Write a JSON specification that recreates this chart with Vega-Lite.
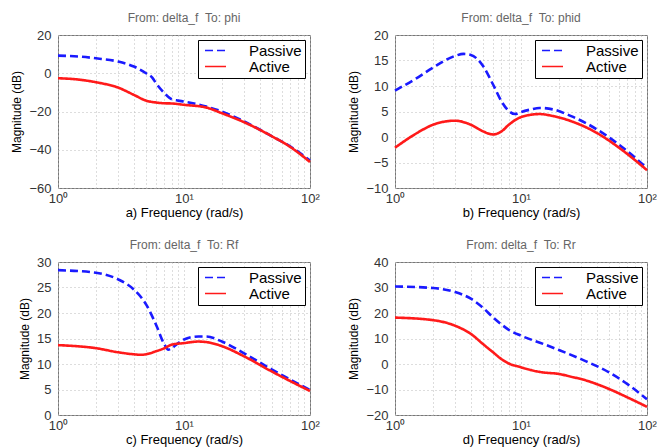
{
  "$schema": "https://vega.github.io/schema/vega-lite/v6.json",
  "background": "white",
  "padding": {"left": 10, "top": 11, "right": 0, "bottom": 0},
  "bounds": "flush",
  "spacing": {"row": 74, "column": 85},
  "columns": 2,
  "datasets": {
    "curves": [
      {"panel": "a", "series": "Passive", "f": 1, "db": 9.2},
      {"panel": "a", "series": "Passive", "f": 1.5, "db": 8.7},
      {"panel": "a", "series": "Passive", "f": 2, "db": 7.8},
      {"panel": "a", "series": "Passive", "f": 3, "db": 6.1},
      {"panel": "a", "series": "Passive", "f": 4, "db": 3.5},
      {"panel": "a", "series": "Passive", "f": 5, "db": 0},
      {"panel": "a", "series": "Passive", "f": 5.6, "db": -2.3},
      {"panel": "a", "series": "Passive", "f": 6, "db": -5.2},
      {"panel": "a", "series": "Passive", "f": 7, "db": -10.4},
      {"panel": "a", "series": "Passive", "f": 8, "db": -13.6},
      {"panel": "a", "series": "Passive", "f": 9, "db": -14.3},
      {"panel": "a", "series": "Passive", "f": 10, "db": -14.8},
      {"panel": "a", "series": "Passive", "f": 15, "db": -17.4},
      {"panel": "a", "series": "Passive", "f": 20, "db": -20},
      {"panel": "a", "series": "Passive", "f": 30, "db": -25.2},
      {"panel": "a", "series": "Passive", "f": 50, "db": -33},
      {"panel": "a", "series": "Passive", "f": 70, "db": -38.3},
      {"panel": "a", "series": "Passive", "f": 100, "db": -45.7},
      {"panel": "a", "series": "Active", "f": 1, "db": -2.6},
      {"panel": "a", "series": "Active", "f": 1.5, "db": -3.4},
      {"panel": "a", "series": "Active", "f": 2, "db": -4.7},
      {"panel": "a", "series": "Active", "f": 3, "db": -7.5},
      {"panel": "a", "series": "Active", "f": 4, "db": -11.3},
      {"panel": "a", "series": "Active", "f": 5, "db": -14.3},
      {"panel": "a", "series": "Active", "f": 6, "db": -15.3},
      {"panel": "a", "series": "Active", "f": 7, "db": -15.7},
      {"panel": "a", "series": "Active", "f": 8, "db": -15.8},
      {"panel": "a", "series": "Active", "f": 10, "db": -16.5},
      {"panel": "a", "series": "Active", "f": 15, "db": -17.9},
      {"panel": "a", "series": "Active", "f": 20, "db": -20.9},
      {"panel": "a", "series": "Active", "f": 30, "db": -25.6},
      {"panel": "a", "series": "Active", "f": 50, "db": -33},
      {"panel": "a", "series": "Active", "f": 70, "db": -38.6},
      {"panel": "a", "series": "Active", "f": 100, "db": -46.4},

      {"panel": "b", "series": "Passive", "f": 1, "db": 9.1},
      {"panel": "b", "series": "Passive", "f": 1.5, "db": 11.6},
      {"panel": "b", "series": "Passive", "f": 2, "db": 13.6},
      {"panel": "b", "series": "Passive", "f": 3, "db": 15.9},
      {"panel": "b", "series": "Passive", "f": 3.5, "db": 16.3},
      {"panel": "b", "series": "Passive", "f": 4, "db": 16.1},
      {"panel": "b", "series": "Passive", "f": 5, "db": 13.9},
      {"panel": "b", "series": "Passive", "f": 6, "db": 10.3},
      {"panel": "b", "series": "Passive", "f": 7, "db": 7.0},
      {"panel": "b", "series": "Passive", "f": 8, "db": 5.1},
      {"panel": "b", "series": "Passive", "f": 9, "db": 4.5},
      {"panel": "b", "series": "Passive", "f": 10, "db": 4.9},
      {"panel": "b", "series": "Passive", "f": 12, "db": 5.4},
      {"panel": "b", "series": "Passive", "f": 14, "db": 5.7},
      {"panel": "b", "series": "Passive", "f": 18, "db": 5.4},
      {"panel": "b", "series": "Passive", "f": 25, "db": 4.1},
      {"panel": "b", "series": "Passive", "f": 40, "db": 1.5},
      {"panel": "b", "series": "Passive", "f": 60, "db": -1.5},
      {"panel": "b", "series": "Passive", "f": 100, "db": -6.1},
      {"panel": "b", "series": "Active", "f": 1, "db": -2.1},
      {"panel": "b", "series": "Active", "f": 1.5, "db": 0.8},
      {"panel": "b", "series": "Active", "f": 2, "db": 2.4},
      {"panel": "b", "series": "Active", "f": 3, "db": 3.2},
      {"panel": "b", "series": "Active", "f": 4, "db": 2.4},
      {"panel": "b", "series": "Active", "f": 5, "db": 1.1},
      {"panel": "b", "series": "Active", "f": 6, "db": 0.5},
      {"panel": "b", "series": "Active", "f": 7, "db": 1.1},
      {"panel": "b", "series": "Active", "f": 8, "db": 2.4},
      {"panel": "b", "series": "Active", "f": 10, "db": 3.9},
      {"panel": "b", "series": "Active", "f": 14, "db": 4.5},
      {"panel": "b", "series": "Active", "f": 18, "db": 4.1},
      {"panel": "b", "series": "Active", "f": 25, "db": 3.1},
      {"panel": "b", "series": "Active", "f": 40, "db": 0.8},
      {"panel": "b", "series": "Active", "f": 60, "db": -2.1},
      {"panel": "b", "series": "Active", "f": 100, "db": -6.5},

      {"panel": "c", "series": "Passive", "f": 1, "db": 28.4},
      {"panel": "c", "series": "Passive", "f": 2, "db": 27.9},
      {"panel": "c", "series": "Passive", "f": 3, "db": 26.6},
      {"panel": "c", "series": "Passive", "f": 4, "db": 24.6},
      {"panel": "c", "series": "Passive", "f": 5, "db": 21.7},
      {"panel": "c", "series": "Passive", "f": 6, "db": 17.7},
      {"panel": "c", "series": "Passive", "f": 7, "db": 13.8},
      {"panel": "c", "series": "Passive", "f": 7.5, "db": 12.8},
      {"panel": "c", "series": "Passive", "f": 8, "db": 13.1},
      {"panel": "c", "series": "Passive", "f": 9, "db": 14.1},
      {"panel": "c", "series": "Passive", "f": 10, "db": 14.8},
      {"panel": "c", "series": "Passive", "f": 13, "db": 15.4},
      {"panel": "c", "series": "Passive", "f": 15, "db": 15.4},
      {"panel": "c", "series": "Passive", "f": 20, "db": 14.4},
      {"panel": "c", "series": "Passive", "f": 30, "db": 12.1},
      {"panel": "c", "series": "Passive", "f": 50, "db": 8.9},
      {"panel": "c", "series": "Passive", "f": 100, "db": 4.9},
      {"panel": "c", "series": "Active", "f": 1, "db": 13.7},
      {"panel": "c", "series": "Active", "f": 2, "db": 13.1},
      {"panel": "c", "series": "Active", "f": 3, "db": 12.3},
      {"panel": "c", "series": "Active", "f": 4, "db": 11.9},
      {"panel": "c", "series": "Active", "f": 4.5, "db": 11.8},
      {"panel": "c", "series": "Active", "f": 5, "db": 11.9},
      {"panel": "c", "series": "Active", "f": 6, "db": 12.5},
      {"panel": "c", "series": "Active", "f": 7, "db": 13.1},
      {"panel": "c", "series": "Active", "f": 8, "db": 13.8},
      {"panel": "c", "series": "Active", "f": 10, "db": 14.1},
      {"panel": "c", "series": "Active", "f": 13, "db": 14.4},
      {"panel": "c", "series": "Active", "f": 15, "db": 14.3},
      {"panel": "c", "series": "Active", "f": 20, "db": 13.5},
      {"panel": "c", "series": "Active", "f": 30, "db": 11.5},
      {"panel": "c", "series": "Active", "f": 50, "db": 8.5},
      {"panel": "c", "series": "Active", "f": 100, "db": 4.7},

      {"panel": "d", "series": "Passive", "f": 1, "db": 30.4},
      {"panel": "d", "series": "Passive", "f": 2, "db": 29.8},
      {"panel": "d", "series": "Passive", "f": 3, "db": 28.2},
      {"panel": "d", "series": "Passive", "f": 4, "db": 25.6},
      {"panel": "d", "series": "Passive", "f": 5, "db": 22.0},
      {"panel": "d", "series": "Passive", "f": 6, "db": 18.3},
      {"panel": "d", "series": "Passive", "f": 7, "db": 15.5},
      {"panel": "d", "series": "Passive", "f": 8, "db": 13.4},
      {"panel": "d", "series": "Passive", "f": 10, "db": 11.1},
      {"panel": "d", "series": "Passive", "f": 15, "db": 7.9},
      {"panel": "d", "series": "Passive", "f": 20, "db": 5.5},
      {"panel": "d", "series": "Passive", "f": 30, "db": 1.9},
      {"panel": "d", "series": "Passive", "f": 50, "db": -3.3},
      {"panel": "d", "series": "Passive", "f": 70, "db": -7.9},
      {"panel": "d", "series": "Passive", "f": 100, "db": -13.8},
      {"panel": "d", "series": "Active", "f": 1, "db": 18.2},
      {"panel": "d", "series": "Active", "f": 2, "db": 17.2},
      {"panel": "d", "series": "Active", "f": 3, "db": 15.0},
      {"panel": "d", "series": "Active", "f": 4, "db": 11.8},
      {"panel": "d", "series": "Active", "f": 5, "db": 7.8},
      {"panel": "d", "series": "Active", "f": 6, "db": 4.6},
      {"panel": "d", "series": "Active", "f": 7, "db": 1.9},
      {"panel": "d", "series": "Active", "f": 8, "db": 0.2},
      {"panel": "d", "series": "Active", "f": 10, "db": -1.3},
      {"panel": "d", "series": "Active", "f": 12, "db": -2.4},
      {"panel": "d", "series": "Active", "f": 15, "db": -3.3},
      {"panel": "d", "series": "Active", "f": 20, "db": -3.9},
      {"panel": "d", "series": "Active", "f": 25, "db": -5.0},
      {"panel": "d", "series": "Active", "f": 30, "db": -5.9},
      {"panel": "d", "series": "Active", "f": 50, "db": -9.8},
      {"panel": "d", "series": "Active", "f": 70, "db": -13.1},
      {"panel": "d", "series": "Active", "f": 100, "db": -16.8}
    ]
  },
  "resolve": {
    "scale": {"x": "independent", "y": "independent", "color": "independent", "strokeDash": "independent"},
    "legend": {"color": "independent", "strokeDash": "independent"}
  },
  "concat": [
    {
      "width": 252, "height": 153,
      "title": {"text": "From: delta_f\u00a0\u00a0To: phi"},
      "data": {"name": "curves"},
      "transform": [{"filter": "datum.panel === 'a'"}],
      "mark": {"type": "line", "interpolate": "monotone", "strokeWidth": 2.6},
      "encoding": {
        "x": {"field": "f", "type": "quantitative", "scale": {"type": "log", "domain": [1, 100], "nice": false},
              "axis": {"title": "a) Frequency  (rad/s)"}},
        "y": {"field": "db", "type": "quantitative", "scale": {"domain": [-60, 20], "nice": false},
              "axis": {"values": [-60, -40, -20, 0, 20], "title": "Magnitude (dB)"}},
        "color": {"field": "series", "type": "nominal", "scale": {"domain": ["Passive", "Active"], "range": ["#1a1aff", "#ff1a1a"]}},
        "strokeDash": {"field": "series", "type": "nominal", "scale": {"domain": ["Passive", "Active"], "range": [[8, 4], [1, 0]]}}
      }
    },
    {
      "width": 252, "height": 153,
      "title": {"text": "From: delta_f\u00a0\u00a0To: phid"},
      "data": {"name": "curves"},
      "transform": [{"filter": "datum.panel === 'b'"}],
      "mark": {"type": "line", "interpolate": "monotone", "strokeWidth": 2.6},
      "encoding": {
        "x": {"field": "f", "type": "quantitative", "scale": {"type": "log", "domain": [1, 100], "nice": false},
              "axis": {"title": "b) Frequency  (rad/s)"}},
        "y": {"field": "db", "type": "quantitative", "scale": {"domain": [-10, 20], "nice": false},
              "axis": {"values": [-10, -5, 0, 5, 10, 15, 20], "title": "Magnitude (dB)"}},
        "color": {"field": "series", "type": "nominal", "scale": {"domain": ["Passive", "Active"], "range": ["#1a1aff", "#ff1a1a"]}},
        "strokeDash": {"field": "series", "type": "nominal", "scale": {"domain": ["Passive", "Active"], "range": [[8, 4], [1, 0]]}}
      }
    },
    {
      "width": 252, "height": 153,
      "title": {"text": "From: delta_f\u00a0\u00a0To: Rf"},
      "data": {"name": "curves"},
      "transform": [{"filter": "datum.panel === 'c'"}],
      "mark": {"type": "line", "interpolate": "monotone", "strokeWidth": 2.6},
      "encoding": {
        "x": {"field": "f", "type": "quantitative", "scale": {"type": "log", "domain": [1, 100], "nice": false},
              "axis": {"title": "c) Frequency  (rad/s)"}},
        "y": {"field": "db", "type": "quantitative", "scale": {"domain": [0, 30], "nice": false},
              "axis": {"values": [0, 5, 10, 15, 20, 25, 30], "title": "Magnitude (dB)"}},
        "color": {"field": "series", "type": "nominal", "scale": {"domain": ["Passive", "Active"], "range": ["#1a1aff", "#ff1a1a"]}},
        "strokeDash": {"field": "series", "type": "nominal", "scale": {"domain": ["Passive", "Active"], "range": [[8, 4], [1, 0]]}}
      }
    },
    {
      "width": 252, "height": 153,
      "title": {"text": "From: delta_f\u00a0\u00a0To: Rr"},
      "data": {"name": "curves"},
      "transform": [{"filter": "datum.panel === 'd'"}],
      "mark": {"type": "line", "interpolate": "monotone", "strokeWidth": 2.6},
      "encoding": {
        "x": {"field": "f", "type": "quantitative", "scale": {"type": "log", "domain": [1, 100], "nice": false},
              "axis": {"title": "d) Frequency  (rad/s)"}},
        "y": {"field": "db", "type": "quantitative", "scale": {"domain": [-20, 40], "nice": false},
              "axis": {"values": [-20, -10, 0, 10, 20, 30, 40], "title": "Magnitude (dB)"}},
        "color": {"field": "series", "type": "nominal", "scale": {"domain": ["Passive", "Active"], "range": ["#1a1aff", "#ff1a1a"]}},
        "strokeDash": {"field": "series", "type": "nominal", "scale": {"domain": ["Passive", "Active"], "range": [[8, 4], [1, 0]]}}
      }
    }
  ],
  "config": {
    "font": "Liberation Sans",
    "view": {"stroke": "#777", "strokeWidth": 1},
    "title": {"fontSize": 12, "fontWeight": "normal", "color": "#666", "offset": 4, "font": "Liberation Sans"},
    "axis": {
      "grid": true, "gridColor": "#bbb", "gridDash": [1, 3], "gridOpacity": 1,
      "ticks": false, "domain": false,
      "labelFont": "Liberation Sans", "labelFontSize": 13, "labelColor": "#333",
      "titleFont": "Liberation Sans", "titleFontSize": 12, "titleFontWeight": "normal", "titleColor": "#000"
    },
    "axisX": {
      "values": [1, 2, 3, 4, 5, 6, 7, 8, 9, 10, 20, 30, 40, 50, 60, 70, 80, 90, 100],
      "labelExpr": "datum.value == 1 ? '10⁰' : datum.value == 10 ? '10¹' : datum.value == 100 ? '10²' : ''",
      "labelPadding": 4, "titlePadding": 1, "titleFontSize": 13, "labelFlush": false
    },
    "axisY": {"labelPadding": 7, "titlePadding": 5},
    "legend": {
      "title": null, "orient": "top-right", "offset": 5,
      "strokeColor": "#000", "fillColor": "white", "padding": 3,
      "labelFont": "Liberation Sans", "labelFontSize": 15, "labelColor": "#000",
      "symbolType": "M-1,0H5", "symbolSize": 49, "symbolStrokeWidth": 1.6,
      "labelOffset": 33, "rowPadding": 0
    }
  }
}
